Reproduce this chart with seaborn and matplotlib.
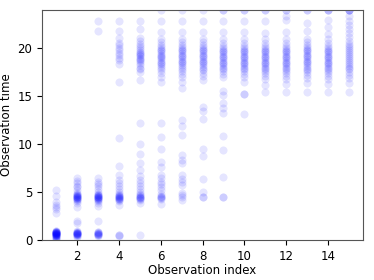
import matplotlib
matplotlib.use("Agg")
import matplotlib.pyplot as plt
import seaborn as sns
import pandas as pd

# Observation times (y) for each observation index (x)
obs_1 = [0.0, 0.1, 0.2, 0.3, 0.3, 0.4, 0.4, 0.5, 0.5, 0.5, 0.6, 0.6, 0.6, 0.6, 0.7, 0.7, 0.7,
         0.7, 0.8, 0.8, 0.8, 0.8, 0.9, 0.9, 0.6, 0.5, 0.7, 0.8,
         2.8, 3.2, 3.4, 3.7, 4.0, 4.6, 5.2]
obs_2 = [0.3, 0.4, 0.5, 0.5, 0.6, 0.6, 0.6, 0.7, 0.7, 0.7, 0.8, 0.8, 0.9, 0.6, 0.7,
         1.8, 2.0, 3.4, 3.9, 4.1, 4.2, 4.3, 4.3, 4.4, 4.4, 4.5, 4.5, 4.5, 4.6, 4.6, 4.7, 4.7, 4.8,
         4.9, 5.2, 5.5, 5.6, 5.9, 6.2, 6.5]
obs_3 = [0.4, 0.5, 0.5, 0.6, 0.6, 0.7, 0.7, 0.8, 0.8, 0.6,
         2.0, 3.5, 3.9, 4.1, 4.2, 4.3, 4.3, 4.4, 4.4, 4.5, 4.5, 4.5, 4.6, 4.6, 4.7, 4.7, 4.8,
         5.0, 5.3, 5.6, 5.8, 6.1, 6.5, 21.8, 22.9]
obs_4 = [0.4, 0.5, 0.5, 3.6, 4.1, 4.2, 4.3, 4.3, 4.4, 4.4, 4.5, 4.5, 4.6, 4.6, 4.7, 4.8,
         5.0, 5.3, 5.6, 5.9, 6.3, 6.8, 7.7, 10.6, 16.5,
         18.4, 18.8, 19.0, 19.3, 19.5, 19.8, 20.0, 20.4, 20.6, 21.1, 21.8, 22.9]
obs_5 = [0.5, 3.9, 4.2, 4.3, 4.4, 4.4, 4.5, 4.5, 4.6, 4.7, 4.8,
         5.0, 5.3, 5.6, 5.9, 6.3, 6.7, 7.3, 8.0, 9.0, 10.0, 12.2, 16.7,
         17.5, 17.8, 18.0, 18.3, 18.5, 18.7, 18.9, 19.0, 19.2, 19.3, 19.5, 19.6, 19.8, 20.0,
         20.2, 20.5, 20.8, 21.1, 22.0, 22.9, 18.8, 19.4]
obs_6 = [3.8, 4.3, 4.4, 4.5, 4.5, 4.6, 4.8, 5.2, 5.5, 5.8, 6.1, 6.5, 6.8, 7.6, 8.1, 9.5,
         10.8, 12.2, 16.5, 17.0, 17.4, 17.7, 18.0, 18.2, 18.4, 18.6, 18.8, 19.0, 19.1, 19.3,
         19.5, 19.7, 19.9, 20.1, 20.4, 20.7, 21.0, 21.7, 22.9, 24.0, 18.5, 19.2, 19.8]
obs_7 = [4.2, 4.5, 4.7, 4.9, 5.7, 6.0, 6.4, 6.8, 8.0, 8.4, 8.9, 11.0, 11.9, 12.5,
         15.9, 16.5, 17.0, 17.3, 17.6, 17.9, 18.1, 18.3, 18.5, 18.7, 18.9, 19.1, 19.3, 19.5,
         19.7, 19.9, 20.1, 20.4, 20.7, 21.0, 21.7, 22.9, 24.0, 18.6, 19.2, 19.8]
obs_8 = [4.5, 4.5, 5.0, 6.4, 8.8, 9.5, 12.6, 13.5, 13.9, 16.7, 17.1, 17.4, 17.7, 17.9,
         18.1, 18.3, 18.5, 18.7, 18.9, 19.1, 19.3, 19.5, 19.7, 19.9, 20.1, 20.4, 20.7, 21.0,
         21.7, 22.9, 24.0, 18.6, 19.2, 19.8]
obs_9 = [4.5, 4.5, 6.6, 9.4, 10.9, 13.3, 13.8, 14.3, 15.1, 15.6, 17.0, 17.3, 17.6, 17.8,
         18.0, 18.2, 18.4, 18.6, 18.8, 19.0, 19.2, 19.4, 19.6, 19.8, 20.0, 20.3, 20.6, 21.0,
         21.7, 22.9, 24.0, 24.0, 18.5, 19.1, 19.7]
obs_10 = [13.2, 15.2, 15.2, 16.5, 17.0, 17.3, 17.6, 17.8, 18.0, 18.2, 18.4, 18.6, 18.8,
          19.0, 19.2, 19.4, 19.6, 19.8, 20.0, 20.3, 20.6, 21.0, 21.7, 22.9, 24.0, 24.0,
          18.5, 19.1, 19.7]
obs_11 = [15.4, 16.2, 16.8, 17.1, 17.4, 17.6, 17.8, 18.0, 18.2, 18.4, 18.6, 18.8, 19.0,
          19.2, 19.4, 19.6, 19.8, 20.0, 20.3, 20.6, 21.0, 21.6, 22.9, 24.0, 24.0,
          18.5, 19.1, 19.7]
obs_12 = [15.4, 16.3, 16.8, 17.1, 17.4, 17.6, 17.8, 18.0, 18.2, 18.4, 18.6, 18.8, 19.0,
          19.2, 19.4, 19.6, 19.8, 20.0, 20.3, 20.6, 21.0, 21.7, 23.0, 23.4, 24.0, 24.0,
          18.5, 19.1, 19.7]
obs_13 = [15.4, 16.4, 16.9, 17.2, 17.5, 17.7, 17.9, 18.1, 18.3, 18.5, 18.7, 18.9, 19.1,
          19.3, 19.5, 19.7, 19.9, 20.1, 20.4, 20.7, 21.0, 21.8, 22.6, 24.0, 24.0,
          18.6, 19.2, 19.8]
obs_14 = [15.4, 16.3, 16.8, 17.1, 17.4, 17.6, 17.8, 18.0, 18.2, 18.4, 18.6, 18.8, 19.0,
          19.2, 19.4, 19.6, 19.8, 20.0, 20.3, 20.6, 21.0, 21.5, 22.2, 23.0, 24.0, 24.0, 24.0,
          18.5, 19.1, 19.7]
obs_15 = [15.4, 16.4, 16.9, 17.2, 17.5, 17.8, 18.0, 18.2, 18.4, 18.6, 18.8, 19.0, 19.2,
          19.4, 19.6, 19.8, 20.0, 20.2, 20.5, 20.8, 21.2, 21.6, 22.0, 22.4, 22.9, 23.4,
          24.0, 24.0, 24.0, 24.0]

series = [obs_1, obs_2, obs_3, obs_4, obs_5, obs_6, obs_7, obs_8, obs_9, obs_10,
          obs_11, obs_12, obs_13, obs_14, obs_15]
xs, ys = [], []
for i, vals in enumerate(series, start=1):
    xs.extend([i] * len(vals))
    ys.extend(vals)
df = pd.DataFrame({"Observation index": xs, "Observation time": ys})

fig, ax = plt.subplots(figsize=(3.74, 2.8), dpi=100)
sns.scatterplot(data=df, x="Observation index", y="Observation time", ax=ax,
                color="blue", alpha=0.1, s=34, linewidth=0)
ax.set_ylim(0, 24)
ax.set_xlim(0.3, 15.7)
ax.set_xticks([2, 4, 6, 8, 10, 12, 14])
ax.set_yticks([0, 5, 10, 15, 20])
ax.set_xlabel("Observation index", fontsize=8.5, labelpad=1)
ax.set_ylabel("Observation time", fontsize=8.5, labelpad=3)
ax.tick_params(labelsize=8.5, length=3.5, width=0.8)
for sp in ax.spines.values():
    sp.set_color("#555555")
fig.subplots_adjust(left=0.112, right=0.971, top=0.964, bottom=0.143)
fig.savefig("out.png", dpi=100)
